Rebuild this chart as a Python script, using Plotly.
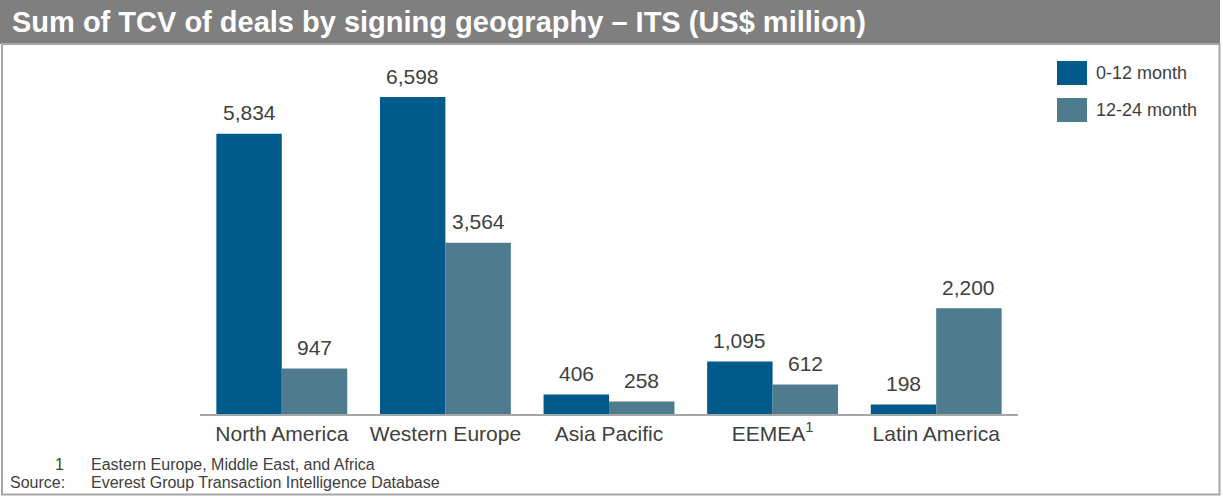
import plotly.graph_objects as go

regions = ['North America', 'Western Europe', 'Asia Pacific', 'EEMEA<sup>1</sup>', 'Latin America']
tcv_0_12 = [5834, 6598, 406, 1095, 198]
tcv_12_24 = [947, 3564, 258, 612, 2200]
series_names = ['0-12 month', '12-24 month']
series_colors = ['#005a8c', '#4e7b8e']

title_text = 'Sum of TCV of deals by signing geography – ITS (US$ million)'
footnote_mark = '1'
footnote_text = 'Eastern Europe, Middle East, and Africa'
source_label = 'Source:'
source_text = 'Everest Group Transaction Intelligence Database'

W, H = 1223, 497
# plot area in pixels
L, R, T, B = 200, 1018, 60, 414
TXT = '#404040'


def px(x):
    return (x - L) / (R - L)


def py(y):
    return (B - y) / (B - T)


fig = go.Figure()
for name, vals, col in zip(series_names, [tcv_0_12, tcv_12_24], series_colors):
    fig.add_trace(go.Bar(x=regions, y=vals, name=name, marker_color=col,
                         marker_line_width=0, showlegend=False, hoverinfo='skip'))

annotations = []
# value labels above bars
group_w = (R - L) / len(regions) * 0.8
for k, vals in enumerate([tcv_0_12, tcv_12_24]):
    shift = -group_w / 4 if k == 0 else group_w / 4
    for reg, v in zip(regions, vals):
        annotations.append(dict(x=reg, y=v, xref='x', yref='y', text=f'{v:,}',
                                showarrow=False, xshift=shift, yshift=21,
                                yanchor='middle',
                                font=dict(size=21, color=TXT)))

# title
annotations.append(dict(x=px(10), y=py(22), xref='paper', yref='paper', text=f'<b>{title_text}</b>',
                        showarrow=False, xanchor='left', yanchor='middle',
                        font=dict(size=29, color='white')))

# legend
shapes = []
for i, (name, col) in enumerate(zip(series_names, series_colors)):
    y0 = 61 + i * 37
    shapes.append(dict(type='rect', xref='paper', yref='paper', x0=px(1057), x1=px(1087),
                       y0=py(y0), y1=py(y0 + 24), fillcolor=col, line_width=0))
    annotations.append(dict(x=px(1094), y=py(y0 + 12), xref='paper', yref='paper', text=name,
                            showarrow=False, xanchor='left', yanchor='middle',
                            font=dict(size=18, color=TXT)))

# footnotes
fn = dict(size=16, color=TXT)
annotations.append(dict(x=px(66), y=py(464), xref='paper', yref='paper', text=footnote_mark,
                        showarrow=False, xanchor='right', yanchor='middle', font=fn))
annotations.append(dict(x=px(89), y=py(464), xref='paper', yref='paper', text=footnote_text,
                        showarrow=False, xanchor='left', yanchor='middle', font=fn))
annotations.append(dict(x=px(8), y=py(482), xref='paper', yref='paper', text=source_label,
                        showarrow=False, xanchor='left', yanchor='middle', font=fn))
annotations.append(dict(x=px(89), y=py(482), xref='paper', yref='paper', text=source_text,
                        showarrow=False, xanchor='left', yanchor='middle', font=fn))

# title bar and frame
shapes.insert(0, dict(type='rect', xref='paper', yref='paper', x0=px(0), x1=px(1220),
                      y0=py(0), y1=py(44), fillcolor='#7f7f7f', line_width=0, layer='below'))
shapes.append(dict(type='rect', xref='paper', yref='paper', x0=px(2), x1=px(1219.5),
                   y0=py(44), y1=py(494.5), fillcolor='rgba(0,0,0,0)',
                   line=dict(color='#a6a6a6', width=2)))

ymax = 6598 * (B - T) / 317.0

fig.update_layout(
    width=W, height=H,
    margin=dict(l=L, r=W - R, t=T, b=H - B),
    barmode='group', bargap=0.2, bargroupgap=0,
    paper_bgcolor='white', plot_bgcolor='white',
    font=dict(family='Arial, Liberation Sans, sans-serif', color=TXT),
    xaxis=dict(showline=True, linecolor='#a6a6a6', linewidth=2, ticks='',
               tickfont=dict(size=21, color=TXT), showgrid=False, zeroline=False),
    yaxis=dict(range=[0, ymax], visible=False, showgrid=False, zeroline=False),
    annotations=annotations,
    shapes=shapes,
    showlegend=False,
)

fig.write_html('out.html', config={'displayModeBar': False},
               post_script="document.body.style.margin='0';document.body.style.overflow='hidden';")
